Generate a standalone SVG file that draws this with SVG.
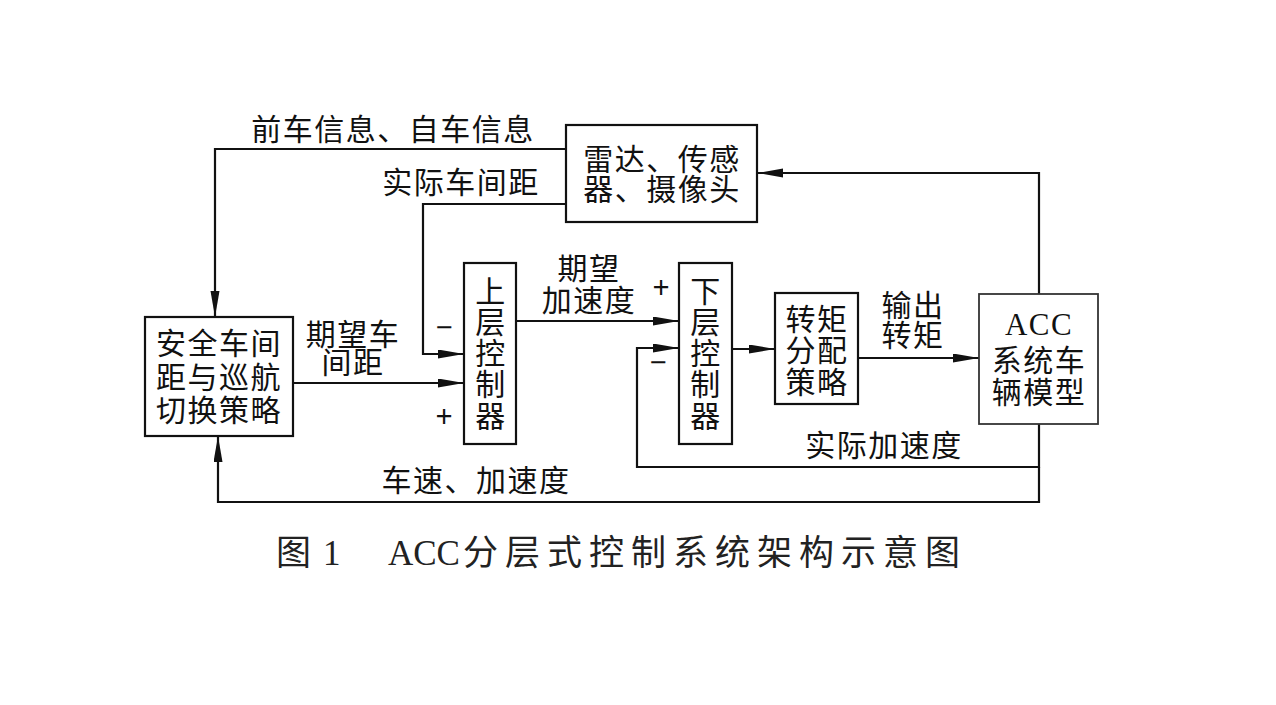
<svg xmlns="http://www.w3.org/2000/svg" width="1276" height="705" viewBox="0 0 1276 705">
<style>
.box{fill:#fff;stroke:#111;stroke-width:2.2}
.ln{fill:none;stroke:#111;stroke-width:2.2}
.t{font-family:"Noto Sans CJK SC","Noto Sans",sans-serif;font-size:30px;fill:#111;text-anchor:middle;letter-spacing:1.5px}
.s{font-family:"Noto Sans","DejaVu Sans",sans-serif;font-size:30px;fill:#111;text-anchor:middle}
.acc{font-family:"Liberation Serif",serif;font-size:31px}
.title{font-family:"Liberation Serif","Noto Sans CJK SC",serif;font-size:35px;fill:#222}
.cjk{font-family:"Noto Sans CJK SC",sans-serif}
</style>
<defs>
<marker id="ah" markerUnits="userSpaceOnUse" markerWidth="28" markerHeight="10" refX="26" refY="4.5" orient="auto">
<path d="M0,0 L26,4.5 L0,9 Z" fill="#111"/>
</marker>
</defs>
<rect width="1276" height="705" fill="#fff"/>
<g id="connectors">
<polyline class="ln" points="566,149 215,149 215,317" marker-end="url(#ah)"/>
<polyline class="ln" points="566,204 423,204 423,354 464,354" marker-end="url(#ah)"/>
<line class="ln" x1="293" y1="383" x2="464" y2="383" marker-end="url(#ah)"/>
<line class="ln" x1="516" y1="321" x2="679" y2="321" marker-end="url(#ah)"/>
<line class="ln" x1="732" y1="349" x2="775" y2="349" marker-end="url(#ah)"/>
<line class="ln" x1="858" y1="358" x2="979" y2="358" marker-end="url(#ah)"/>
<polyline class="ln" points="1039,294 1039,173 757,173" marker-end="url(#ah)"/>
<polyline class="ln" points="1039,424 1039,467 637,467 637,348 679,348" marker-end="url(#ah)"/>
<polyline class="ln" points="1039,467 1039,502 218,502 218,436" marker-end="url(#ah)"/>
</g>
<g id="labels">
<text class="t" x="393" y="140">前车信息、自车信息</text>
<text class="t" x="461" y="193">实际车间距</text>
<text class="t"><tspan x="353" y="345">期望车</tspan><tspan x="353" y="373">间距</tspan></text>
<text class="t"><tspan x="589" y="279">期望</tspan><tspan x="589" y="311">加速度</tspan></text>
<text class="t"><tspan x="913" y="316">输出</tspan><tspan x="913" y="346">转矩</tspan></text>
<text class="t" x="884" y="456">实际加速度</text>
<text class="t" x="476" y="491">车速、加速度</text>
<text class="s" x="444" y="338">−</text>
<text class="s" x="444" y="427">+</text>
<text class="s" x="661" y="298">+</text>
<text class="s" x="658" y="373">−</text>
</g>
<g id="sensor">
<rect class="box" x="566" y="125" width="191" height="97"/>
<text class="t"><tspan x="662" y="170">雷达、传感</tspan><tspan x="662" y="200">器、摄像头</tspan></text>
</g>
<g id="strategy">
<rect class="box" x="145" y="317" width="148" height="119"/>
<text class="t"><tspan x="219" y="354">安全车间</tspan><tspan x="219" y="388">距与巡航</tspan><tspan x="219" y="421">切换策略</tspan></text>
</g>
<g id="upper">
<rect class="box" x="464" y="263" width="52" height="181"/>
<text class="t"><tspan x="491" y="302">上</tspan><tspan x="491" y="333">层</tspan><tspan x="491" y="364">控</tspan><tspan x="491" y="395">制</tspan><tspan x="491" y="427">器</tspan></text>
</g>
<g id="lower">
<rect class="box" x="679" y="263" width="53" height="181"/>
<text class="t"><tspan x="706" y="302">下</tspan><tspan x="706" y="333">层</tspan><tspan x="706" y="364">控</tspan><tspan x="706" y="395">制</tspan><tspan x="706" y="427">器</tspan></text>
</g>
<g id="torque">
<rect class="box" x="775" y="293" width="83" height="111"/>
<text class="t"><tspan x="817" y="330">转矩</tspan><tspan x="817" y="361">分配</tspan><tspan x="817" y="393">策略</tspan></text>
</g>
<g id="vehicle">
<rect class="box" x="979" y="294" width="119" height="130" style="stroke:#333;stroke-width:1.8"/>
<text class="t"><tspan class="acc" x="1039" y="335">ACC</tspan><tspan x="1039" y="371">系统车</tspan><tspan x="1039" y="403">辆模型</tspan></text>
</g>
<g id="caption">
<text class="title" y="565"><tspan class="cjk" x="276">图</tspan><tspan x="323">1</tspan><tspan x="388">ACC</tspan><tspan class="cjk" x="463" letter-spacing="7">分层式控制系统架构示意图</tspan></text>
</g>
</svg>
